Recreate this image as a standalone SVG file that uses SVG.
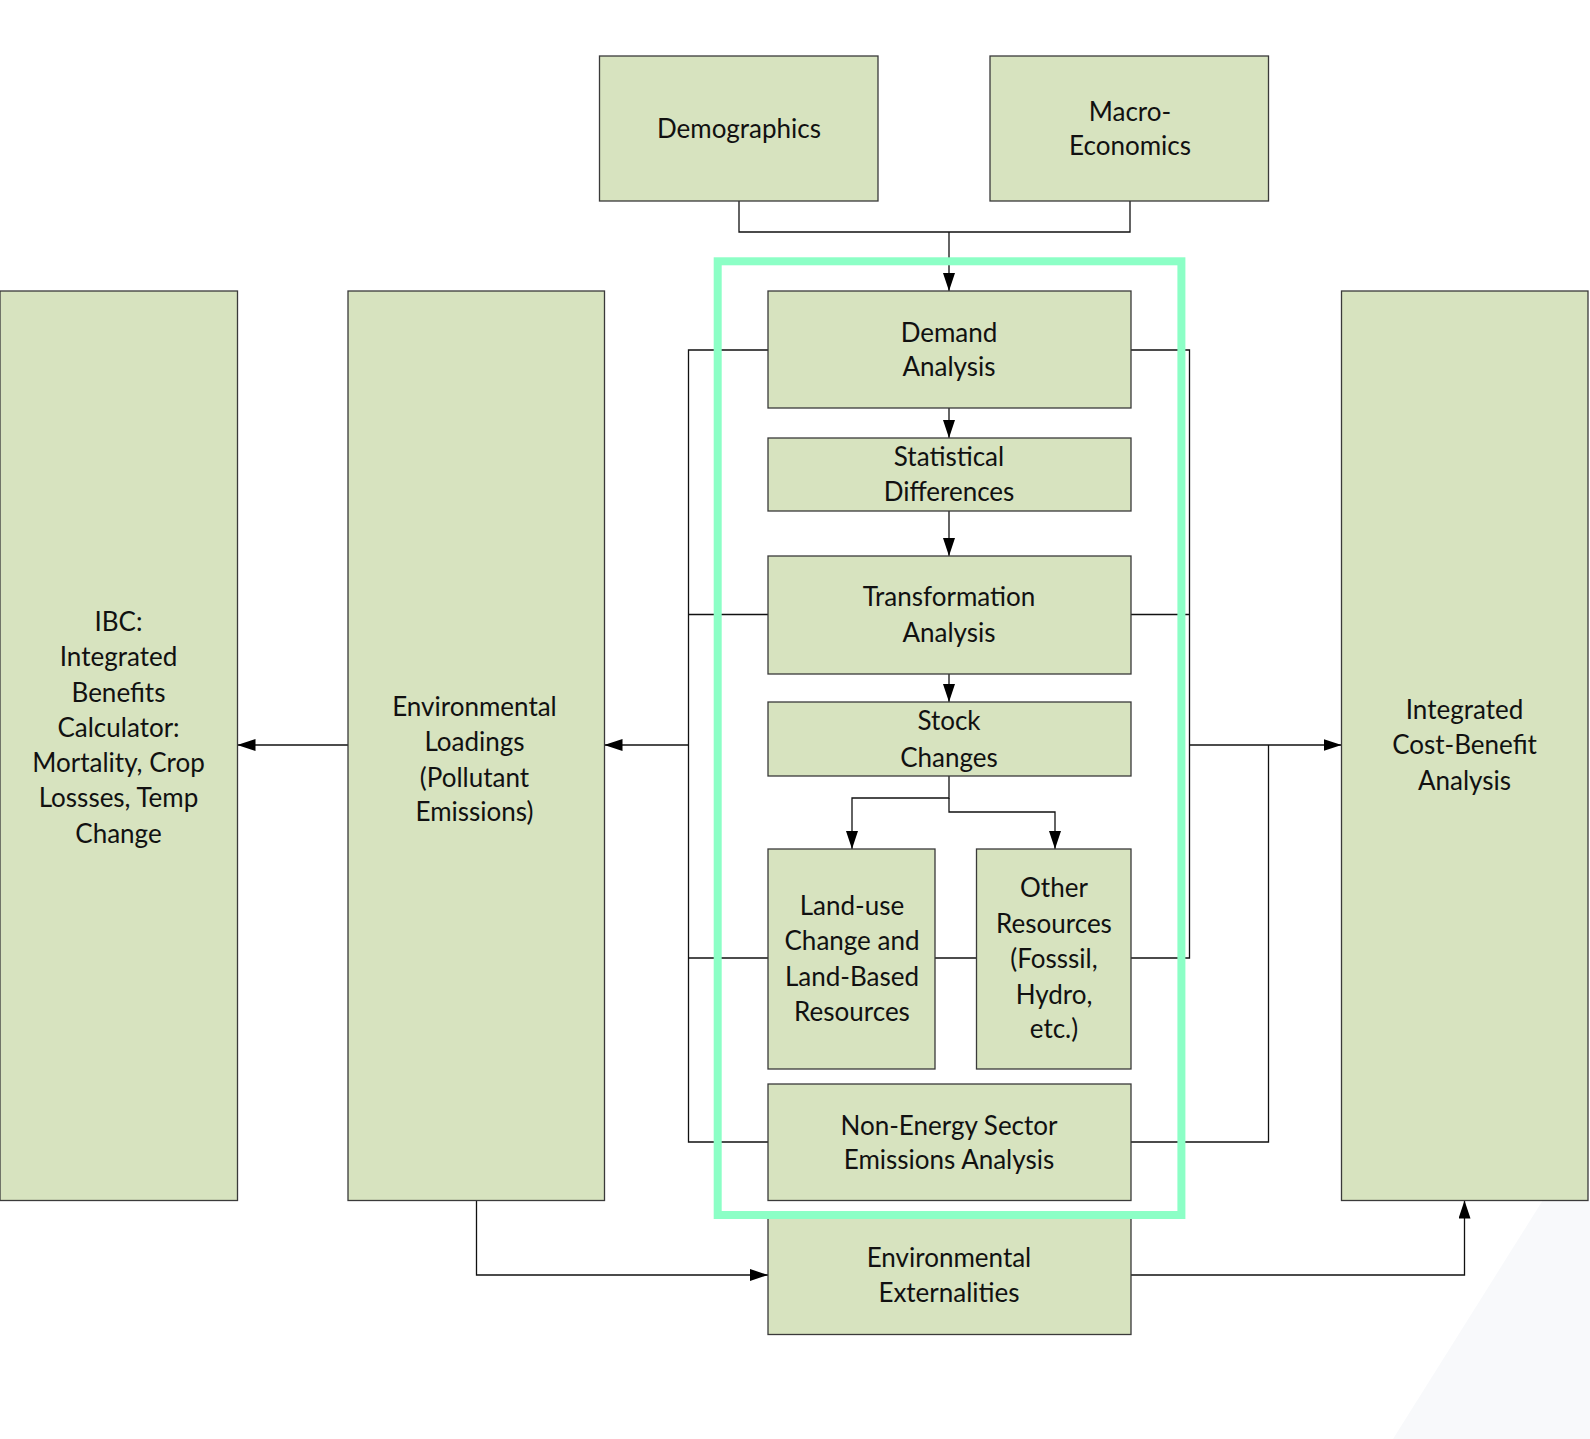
<svg xmlns="http://www.w3.org/2000/svg" width="1590" height="1439" viewBox="0 0 1590 1439">
<style>
.box{fill:#d7e3bf;stroke:#3a3a3a;stroke-width:1.3}
.t{font-family:Lato,"Open Sans","Liberation Sans",sans-serif;font-size:26px;fill:#111;text-anchor:middle}
.c{fill:none;stroke:#111;stroke-width:1.3}
</style>
<defs>
<marker id="ahl" viewBox="0 0 18 12" refX="18" refY="6" markerWidth="18" markerHeight="12" markerUnits="userSpaceOnUse" orient="auto"><path d="M0,0 L18,6 L0,12 z" fill="#000"/></marker>
</defs>
<rect width="1590" height="1439" fill="#fff"/>
<polygon points="1543,1200 1590,1200 1590,1439 1393,1439" fill="#f8f9fb"/>
<g id="connectors">
<path class="c" d="M739,201 V232 H1130 V201"/>
<path class="c" d="M949,232 V291" marker-end="url(#ahl)"/>
<path class="c" d="M949,408 V438" marker-end="url(#ahl)"/>
<path class="c" d="M949,511 V556" marker-end="url(#ahl)"/>
<path class="c" d="M949,674 V702" marker-end="url(#ahl)"/>
<path class="c" d="M949,776 V798 H852 V849" marker-end="url(#ahl)"/>
<path class="c" d="M949,798 V812 H1055 V849" marker-end="url(#ahl)"/>
<path class="c" d="M768,350 H688.5 V1142 H768"/>
<path class="c" d="M768,614.5 H688.5"/>
<path class="c" d="M768,958 H688.5"/>
<path class="c" d="M935,958 H976.5"/>
<path class="c" d="M688.5,745 H604.5" stroke-width="2" marker-end="url(#ahl)"/>
<path class="c" d="M348,745 H237.5" marker-end="url(#ahl)"/>
<path class="c" d="M1131,350 H1189.5 V958 H1131"/>
<path class="c" d="M1131,614.5 H1189.5"/>
<path class="c" d="M1189.5,745 H1341.5" stroke-width="2" marker-end="url(#ahl)"/>
<path class="c" d="M1268.5,745 V1142 H1131"/>
<path class="c" d="M476.5,1200.5 V1275 H768" marker-end="url(#ahl)"/>
<path class="c" d="M1131,1275 H1464.5 V1200.5" marker-end="url(#ahl)"/>
</g>
<g id="demographics"><rect class="box" x="599.5" y="56" width="278.5" height="145"/><text class="t" x="739" y="138">Demographics</text></g>
<g id="macro"><rect class="box" x="990" y="56" width="278.5" height="145"/><text class="t" x="1130" y="121">Macro-</text><text class="t" x="1130" y="155">Economics</text></g>
<g id="ibc"><rect class="box" x="0" y="291" width="237.5" height="909.5"/>
<text class="t" x="118.5" y="631">IBC:</text><text class="t" x="118.5" y="666">Integrated</text><text class="t" x="118.5" y="702">Benefits</text><text class="t" x="118.5" y="737">Calculator:</text><text class="t" x="118.5" y="772">Mortality, Crop</text><text class="t" x="118.5" y="807">Lossses, Temp</text><text class="t" x="118.5" y="843">Change</text></g>
<g id="env-loadings"><rect class="box" x="348" y="291" width="256.5" height="909.5"/>
<text class="t" x="474.5" y="716">Environmental</text><text class="t" x="474.5" y="751">Loadings</text><text class="t" x="474.5" y="787">(Pollutant</text><text class="t" x="474.5" y="821">Emissions)</text></g>
<g id="cba"><rect class="box" x="1341.5" y="291" width="246.5" height="909.5"/>
<text class="t" x="1464.5" y="719">Integrated</text><text class="t" x="1464.5" y="754">Cost-Benefit</text><text class="t" x="1464.5" y="790">Analysis</text></g>
<g id="demand"><rect class="box" x="768" y="291" width="363" height="117"/><text class="t" x="949" y="342">Demand</text><text class="t" x="949" y="376">Analysis</text></g>
<g id="statdiff"><rect class="box" x="768" y="438" width="363" height="73"/><text class="t" x="949" y="466">Statistical</text><text class="t" x="949" y="501">Differences</text></g>
<g id="transformation"><rect class="box" x="768" y="556" width="363" height="118"/><text class="t" x="949" y="606">Transformation</text><text class="t" x="949" y="642">Analysis</text></g>
<g id="stock"><rect class="box" x="768" y="702" width="363" height="74"/><text class="t" x="949" y="730">Stock</text><text class="t" x="949" y="767">Changes</text></g>
<g id="landuse"><rect class="box" x="768" y="849" width="167" height="220"/><text class="t" x="852" y="915">Land-use</text><text class="t" x="852" y="950">Change and</text><text class="t" x="852" y="986">Land-Based</text><text class="t" x="852" y="1021">Resources</text></g>
<g id="other"><rect class="box" x="976.5" y="849" width="154.5" height="220"/><text class="t" x="1054" y="897">Other</text><text class="t" x="1054" y="933">Resources</text><text class="t" x="1054" y="968">(Fosssil,</text><text class="t" x="1054" y="1004">Hydro,</text><text class="t" x="1054" y="1038">etc.)</text></g>
<g id="nonenergy"><rect class="box" x="768" y="1084" width="363" height="116.5"/><text class="t" x="949" y="1135">Non-Energy Sector</text><text class="t" x="949" y="1169">Emissions Analysis</text></g>
<g id="externalities"><rect class="box" x="768" y="1214" width="363" height="120.5"/><text class="t" x="949" y="1267">Environmental</text><text class="t" x="949" y="1302">Externalities</text></g>
<g id="highlight"><rect x="717.7" y="261.3" width="463.7" height="953.7" fill="none" stroke="#8cffc6" stroke-width="8"/></g>
</svg>
